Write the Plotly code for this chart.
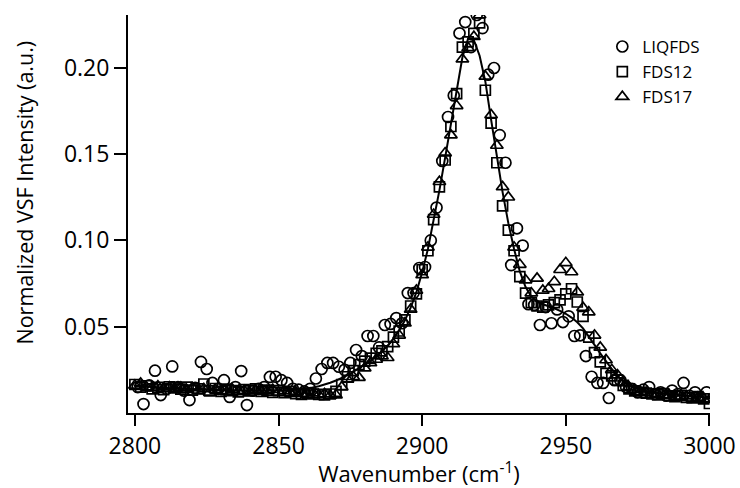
import plotly.graph_objects as go

# ---- data ----
x_fds = list(range(2800, 3001, 2))          # FDS12 / FDS17 / fit grid
x_liq = list(range(2801, 3000, 2))          # LIQFDS grid

liqfds = [
    0.0150, 0.0052, 0.0160, 0.0245, 0.0104, 0.0140, 0.0270, 0.0150, 0.0130, 0.0075,
    0.0145, 0.0296, 0.0255, 0.0174, 0.0140, 0.0190, 0.0093, 0.0150, 0.0243, 0.0046,
    0.0130, 0.0140, 0.0150, 0.0209, 0.0210, 0.0190, 0.0174, 0.0140, 0.0135, 0.0125,
    0.0140, 0.0200, 0.0255, 0.0290, 0.0290, 0.0268, 0.0250, 0.0290, 0.0365, 0.0330,
    0.0446, 0.0446, 0.0380, 0.0510, 0.0516, 0.0550, 0.0520, 0.0695, 0.0695, 0.0840,
    0.0846, 0.1000, 0.1190, 0.1460, 0.1715, 0.1840, 0.2200, 0.2265, 0.2120, 0.2306,
    0.2230, 0.1960, 0.1999, 0.1610, 0.1450, 0.0857, 0.1070, 0.0970, 0.0630, 0.0626,
    0.0510, 0.0614, 0.0520, 0.0600, 0.0527, 0.0560, 0.0446, 0.0450, 0.0330, 0.0210,
    0.0174, 0.0174, 0.0087, 0.0190, 0.0190, 0.0150, 0.0140, 0.0120, 0.0135, 0.0150,
    0.0110, 0.0120, 0.0100, 0.0130, 0.0110, 0.0174, 0.0100, 0.0120, 0.0090, 0.0120,
]

fds12 = [
    0.0165, 0.0150, 0.0158, 0.0140, 0.0148, 0.0135, 0.0152, 0.0145, 0.0138, 0.0150,
    0.0132, 0.0140, 0.0168, 0.0128, 0.0142, 0.0125, 0.0138, 0.0130, 0.0122, 0.0135,
    0.0128, 0.0140, 0.0125, 0.0132, 0.0120, 0.0130, 0.0118, 0.0125, 0.0112, 0.0108,
    0.0115, 0.0110, 0.0108, 0.0105, 0.0110, 0.0125, 0.0165, 0.0210, 0.0245, 0.0280,
    0.0300, 0.0318, 0.0345, 0.0360, 0.0385, 0.0440, 0.0475, 0.0540, 0.0620, 0.0690,
    0.0830, 0.0940, 0.1120, 0.1310, 0.1466, 0.1660, 0.1850, 0.2120, 0.2150, 0.2200,
    0.2260, 0.1870, 0.1680, 0.1450, 0.1200, 0.1060, 0.0940, 0.0790, 0.0695, 0.0640,
    0.0620, 0.0614, 0.0626, 0.0640, 0.0655, 0.0690, 0.0720, 0.0643, 0.0560, 0.0440,
    0.0350, 0.0296, 0.0230, 0.0215, 0.0190, 0.0160, 0.0140, 0.0128, 0.0120, 0.0115,
    0.0110, 0.0105, 0.0112, 0.0100, 0.0095, 0.0102, 0.0090, 0.0088, 0.0095, 0.0082,
    0.0055,
]

fds17 = [
    0.0160, 0.0172, 0.0150, 0.0145, 0.0155, 0.0142, 0.0150, 0.0138, 0.0148, 0.0135,
    0.0145, 0.0130, 0.0140, 0.0120, 0.0135, 0.0128, 0.0122, 0.0135, 0.0125, 0.0130,
    0.0118, 0.0132, 0.0125, 0.0128, 0.0135, 0.0120, 0.0128, 0.0118, 0.0122, 0.0112,
    0.0108, 0.0115, 0.0105, 0.0110, 0.0102, 0.0104, 0.0150, 0.0195, 0.0210, 0.0205,
    0.0260, 0.0290, 0.0310, 0.0330, 0.0320, 0.0400, 0.0450, 0.0520, 0.0600, 0.0710,
    0.0800, 0.0960, 0.1150, 0.1340, 0.1506, 0.1610, 0.1780, 0.2050, 0.2115, 0.2180,
    0.2306, 0.1950, 0.1727, 0.1550, 0.1310, 0.1250, 0.0960, 0.0860, 0.0770, 0.0695,
    0.0780, 0.0710, 0.0720, 0.0760, 0.0830, 0.0870, 0.0817, 0.0700, 0.0610, 0.0585,
    0.0450, 0.0380, 0.0307, 0.0250, 0.0220, 0.0174, 0.0150, 0.0135, 0.0122, 0.0118,
    0.0108, 0.0112, 0.0100, 0.0105, 0.0096, 0.0092, 0.0098, 0.0085, 0.0090, 0.0080,
    0.0078,
]

fit = [
    0.0158, 0.0155, 0.0152, 0.0150, 0.0148, 0.0146, 0.0144, 0.0142, 0.0140, 0.0139,
    0.0138, 0.0136, 0.0135, 0.0134, 0.0133, 0.0132, 0.0131, 0.0130, 0.0130, 0.0129,
    0.0129, 0.0129, 0.0129, 0.0130, 0.0130, 0.0131, 0.0132, 0.0133, 0.0135, 0.0138,
    0.0142, 0.0148, 0.0155, 0.0164, 0.0175, 0.0188, 0.0203, 0.0220, 0.0238, 0.0258,
    0.0280, 0.0302, 0.0328, 0.0357, 0.0390, 0.0430, 0.0478, 0.0537, 0.0610, 0.0700,
    0.0815, 0.0950, 0.1110, 0.1290, 0.1480, 0.1680, 0.1880, 0.2060, 0.2170, 0.2160,
    0.2070, 0.1920, 0.1700, 0.1480, 0.1280, 0.1100, 0.0950, 0.0820, 0.0730, 0.0675,
    0.0645, 0.0630, 0.0620, 0.0607, 0.0592, 0.0575, 0.0553, 0.0526, 0.0490, 0.0445,
    0.0395, 0.0345, 0.0298, 0.0255, 0.0215, 0.0185, 0.0162, 0.0146, 0.0135, 0.0127,
    0.0121, 0.0116, 0.0112, 0.0109, 0.0106, 0.0103, 0.0100, 0.0097, 0.0094, 0.0091,
    0.0088,
]

x_ticks = [2800, 2850, 2900, 2950, 3000]
y_ticks = [0.05, 0.10, 0.15, 0.20]
y_ticklabels = ["0.05", "0.10", "0.15", "0.20"]

FONT = "Open Sans"
BLACK = "#000000"

fig = go.Figure()

fig.add_trace(go.Scatter(
    x=x_liq, y=liqfds, mode="markers", name="LIQFDS",
    marker=dict(symbol="circle-open", size=11, color=BLACK, line=dict(width=1.7, color=BLACK)),
))
fig.add_trace(go.Scatter(
    x=x_fds, y=fds12, mode="markers", name="FDS12",
    marker=dict(symbol="square-open", size=10, color=BLACK, line=dict(width=1.7, color=BLACK)),
))
fig.add_trace(go.Scatter(
    x=x_fds, y=fds17, mode="markers", name="FDS17",
    marker=dict(symbol="triangle-up-open", size=11, color=BLACK, line=dict(width=1.7, color=BLACK)),
))
fig.add_trace(go.Scatter(
    x=x_fds, y=fit, mode="lines", name="fit", showlegend=False,
    line=dict(color=BLACK, width=2),
))

fig.update_layout(
    width=740, height=488,
    margin=dict(l=128, r=30, t=15, b=75, autoexpand=False),
    paper_bgcolor="white", plot_bgcolor="white",
    font=dict(family=FONT, size=23, color=BLACK),
    showlegend=True,
    legend=dict(
        x=0.815, y=0.965, xanchor="left", yanchor="top",
        bgcolor="rgba(0,0,0,0)", borderwidth=0,
        font=dict(family=FONT, size=17, color=BLACK),
        itemwidth=30, tracegroupgap=0,
    ),
    xaxis=dict(
        range=[2797.6, 3000.2], automargin=False,
        tickvals=x_ticks, ticktext=[str(v) for v in x_ticks],
        ticks="outside", ticklen=11, tickwidth=2, tickcolor=BLACK,
        showline=True, linewidth=2, linecolor=BLACK, mirror=False,
        showgrid=False, zeroline=False,
        title=dict(text="Wavenumber (cm<sup>-1</sup>)", standoff=0,
                   font=dict(family=FONT, size=22, color=BLACK)),
        tickfont=dict(family=FONT, size=23, color=BLACK),
    ),
    yaxis=dict(
        range=[0.0, 0.2306], automargin=False,
        tickvals=y_ticks, ticktext=y_ticklabels,
        ticks="outside", ticklen=12, tickwidth=2, tickcolor=BLACK,
        showline=True, linewidth=2, linecolor=BLACK, mirror=False,
        showgrid=False, zeroline=False,
        tickfont=dict(family=FONT, size=23, color=BLACK),
    ),
    annotations=[dict(
        text="Normalized VSF Intensity (a.u.)",
        xref="paper", yref="paper", x=-0.178, y=0.555,
        xanchor="center", yanchor="middle", textangle=-90, showarrow=False,
        font=dict(family=FONT, size=21.5, color=BLACK),
    )],
)

fig.write_html("out.html")
